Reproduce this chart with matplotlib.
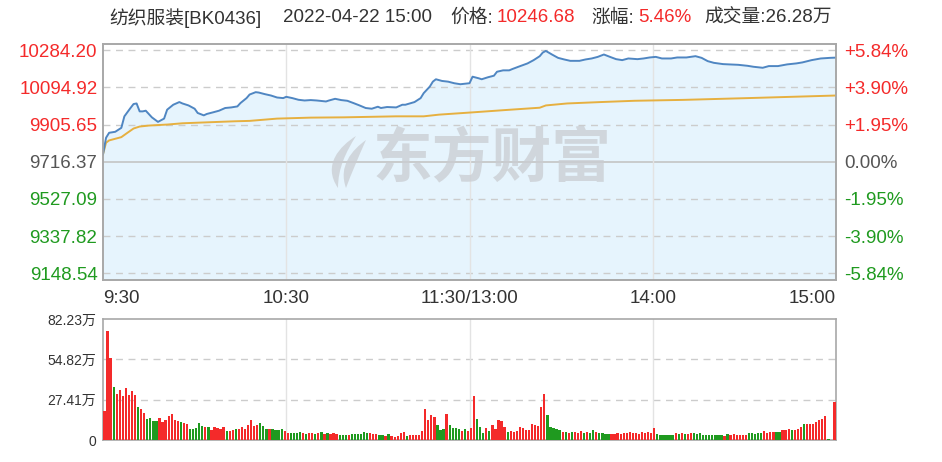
import matplotlib
matplotlib.use('Agg')
import matplotlib.pyplot as plt
from matplotlib.path import Path
from matplotlib.patches import PathPatch
import numpy as np

FONT = ['Liberation Sans', 'Noto Sans CJK SC', 'DejaVu Sans']
plt.rcParams['font.family'] = FONT

# ---------------- data ----------------
prev_close = 9716.37
price_ticks = [9148.54, 9337.82, 9527.09, 9716.37, 9905.65, 10094.92, 10284.20]
price_tick_labels = ['9148.54', '9337.82', '9527.09', '9716.37', '9905.65', '10094.92', '10284.20']
pct_tick_labels = ['-5.84%', '-3.90%', '-1.95%', '0.00%', '+1.95%', '+3.90%', '+5.84%']
time_ticks = [0, 60, 120, 180, 240]
time_labels = ['9:30', '10:30', '11:30/13:00', '14:00', '15:00']
vol_ticks = [0, 27.41, 54.82, 82.23]
vol_tick_labels = ['0', '27.41万', '54.82万', '82.23万']

price_min = [0, 1, 2, 4, 6, 7, 9, 10, 11, 12, 13, 14, 16, 18, 20, 21, 23, 25, 26, 28,
             30, 31, 33, 34, 36, 38, 40, 42, 44, 45, 47, 48, 50, 51, 53, 55, 57, 59, 60, 62,
             64, 66, 68, 70, 73, 74, 76, 78, 80, 82, 84, 86, 88, 90, 91, 93, 96, 98, 99, 102,
             104, 105, 107, 108, 109, 111, 113, 115, 117, 120, 121, 123, 124, 126, 128, 129, 131, 133, 134, 136,
             139, 141, 143, 144, 145, 147, 149, 151, 153, 156, 158, 160, 162, 164, 166, 168, 170, 172, 175, 177,
             179, 181, 183, 186, 188, 191, 194, 196, 198, 200, 203, 205, 208, 211, 213, 216, 218, 221, 224, 227,
             229, 232, 235, 238, 240]
price_val = [9754.2, 9838.5, 9863.8, 9868.8, 9889.0, 9947.6, 9990.0, 10010.2, 10013.2, 9972.8,
             9972.8, 9976.3, 9942.5, 9919.3, 9936.0, 9981.4, 10006.6, 10020.3, 10013.2, 10003.1,
             9986.4, 9964.7, 9952.6, 9959.7, 9967.8, 9976.3, 9990.0, 9993.0, 9998.1, 10015.2,
             10040.4, 10058.6, 10070.7, 10068.7, 10060.6, 10053.6, 10043.5, 10040.4, 10047.0, 10040.4,
             10031.9, 10028.3, 10030.4, 10028.3, 10023.3, 10028.3, 10036.9, 10030.4, 10026.8, 10015.2,
             10003.1, 9990.0, 9986.4, 9996.5, 9990.0, 9995.0, 9993.0, 10006.6, 10006.6, 10020.3,
             10040.4, 10065.7, 10099.0, 10124.2, 10136.4, 10127.8, 10124.2, 10116.2, 10111.1, 10116.2,
             10149.5, 10141.4, 10136.4, 10146.4, 10154.5, 10174.7, 10181.8, 10181.8, 10188.3, 10200.0,
             10217.1, 10233.8, 10254.0, 10272.6, 10280.7, 10262.5, 10245.4, 10237.3, 10230.2, 10230.2,
             10237.3, 10242.3, 10250.4, 10262.5, 10250.4, 10238.8, 10233.8, 10242.3, 10238.8, 10242.3,
             10247.4, 10250.4, 10242.3, 10242.3, 10247.4, 10247.4, 10254.0, 10245.4, 10228.7, 10220.1,
             10213.6, 10212.1, 10210.0, 10205.0, 10200.0, 10194.9, 10203.5, 10203.5, 10212.1, 10217.1,
             10222.2, 10233.8, 10242.3, 10245.4, 10246.68]

avg_min = [0, 1, 2, 6, 8, 10, 12, 15, 21, 26, 32, 43, 48, 57, 68, 79, 96, 105, 110, 121,
           132, 143, 145, 152, 163, 174, 190, 211, 240]
avg_val = [9754.2, 9813.3, 9824.9, 9841.6, 9863.8, 9885.5, 9895.6, 9900.6, 9905.7, 9912.2,
           9915.8, 9922.3, 9924.4, 9936.0, 9941.0, 9942.5, 9947.6, 9947.6, 9956.2, 9967.8,
           9979.9, 9991.5, 10003.1, 10013.2, 10020.3, 10026.8, 10031.4, 10040.4, 10053.6]

vol = [19.4, 74.0, 55.7, 36.1, 31.2, 33.9, 30.1, 35.0, 30.5, 33.4,
       30.7, 22.7, 21.2, 18.3, 14.5, 15.2, 12.9, 12.9, 15.2, 12.3,
       13.4, 16.0, 17.8, 13.8, 12.9, 12.3, 11.6, 11.1, 7.8, 7.8,
       8.2, 11.6, 9.6, 8.9, 8.9, 6.7, 8.5, 8.2, 7.8, 8.5,
       6.0, 6.2, 6.7, 7.4, 7.8, 8.9, 7.8, 10.0, 13.8, 9.4,
       10.0, 11.6, 9.4, 7.8, 7.8, 7.4, 7.1, 6.7, 7.8, 6.0,
       4.9, 4.9, 4.9, 4.9, 5.1, 4.5, 4.2, 4.5, 4.5, 4.0,
       4.5, 5.1, 4.0, 4.5, 4.0, 4.9, 4.0, 3.3, 3.3, 3.3,
       3.3, 4.0, 4.0, 3.8, 3.8, 5.3, 4.5, 4.5, 3.8, 3.8,
       3.1, 3.1, 2.7, 3.8, 2.7, 2.2, 2.7, 4.5, 5.1, 2.9,
       3.3, 3.1, 3.1, 3.1, 6.2, 21.2, 13.4, 16.7, 15.6, 10.5,
       7.1, 7.8, 17.8, 10.0, 8.2, 8.2, 7.8, 6.2, 7.8, 6.2,
       8.2, 30.1, 14.5, 8.9, 4.9, 8.2, 6.2, 10.0, 7.8, 13.8,
       12.9, 8.9, 5.6, 6.0, 5.6, 6.0, 8.5, 8.2, 6.7, 6.7,
       10.7, 10.5, 9.4, 22.3, 31.2, 16.7, 8.9, 8.2, 7.8, 6.7,
       5.6, 5.6, 4.5, 5.6, 5.1, 4.5, 6.0, 4.5, 5.6, 4.9,
       6.7, 5.1, 4.9, 4.5, 4.0, 4.0, 3.8, 3.8, 4.5, 3.8,
       4.9, 4.5, 5.6, 4.5, 4.9, 4.0, 5.1, 4.5, 5.6, 4.5,
       8.2, 4.0, 3.3, 3.5, 3.3, 3.1, 3.3, 4.5, 4.0, 4.5,
       4.2, 4.0, 4.9, 4.5, 4.2, 4.5, 3.3, 3.1, 3.3, 3.3,
       3.1, 3.5, 3.3, 2.9, 3.8, 3.1, 4.0, 3.3, 3.1, 3.3,
       3.5, 4.5, 4.5, 4.2, 4.5, 4.5, 6.2, 4.9, 5.1, 5.3,
       5.1, 5.1, 6.7, 6.5, 7.8, 6.7, 7.1, 7.8, 8.9, 11.1,
       10.7, 10.7, 11.1, 12.3, 13.4, 14.5, 16.0, 0.4, 0.3, 25.6]
vol_dir = ("rrrgrrrrrr" "rgrrggggrr" "rrrrrgrrgg" "gggrgrrrrr" "grrgrrrrrr" "rgggrggggr"
           "rggggrgrrg" "rgrgrrrggg" "rggggggrrr" "ggrgrrrrrg" "rrrrrrrrrg" "ggrggggrgr"
           "rrgggrgrrr" "rrgrrrrrrr" "rrrrrggggg" "rgrgrrrgrg" "grggggrrrr" "rrrrrrrrrr"
           "rggggggrgr" "grrggggggg" "gggrgrrrrr" "rgggggrrrr" "ggrrrgrrrg" "rrrrrrrggr")

header_parts = [('纺织服装[BK0436]', 'grey'), ('2022-04-22 15:00', 'grey'), ('价格:', 'grey'),
                ('10246.68', 'red'), ('涨幅:', 'grey'), ('5.46%', 'red'), ('成交量:26.28万', 'grey')]

# ---------------- style ----------------
RED = '#f42a2a'
GREEN = '#1f9a1f'
GREY = '#555555'
DARK = '#333333'
BLUE = '#4f86c2'
FILL = '#e6f4fd'
GOLD = '#e6b040'
GRID = '#cccccc'
VGRID = '#e3e3e3'
SPINE = '#a8a8a8'
WM = '#c9cdd2'
FS = 13.5

W, H = 942, 462
fig = plt.figure(figsize=(W / 100, H / 100), dpi=100)


def rect(l, t, r, b):
    return [l / W, 1 - b / H, (r - l) / W, (b - t) / H]


ax = fig.add_axes(rect(103, 44, 836, 280))
axv = fig.add_axes(rect(103, 319, 836, 440))

ymin, ymax = 9114.0, 10316.0
ax.set_xlim(0, 240)
ax.set_ylim(ymin, ymax)

# price fill + lines
ax.fill_between(price_min, price_val, ymin, color=FILL, zorder=1, lw=0)
ax.plot(price_min, price_val, color=BLUE, lw=1.4, zorder=4)
ax.plot(avg_min, avg_val, color=GOLD, lw=1.4, zorder=3)

# grid
for t in price_ticks:
    if abs(t - prev_close) < 1e-6:
        ax.axhline(t, color='#c4c4c4', lw=1.2, zorder=2)
    else:
        ax.axhline(t, color=GRID, lw=1.0, ls=(0, (5, 4)), zorder=2)
for t in time_ticks[1:-1]:
    ax.axvline(t, color=VGRID, lw=1.0, zorder=2)

# watermark (logo + text)
ax.text(0.531, 0.505, '东方财富', transform=ax.transAxes, ha='center', va='center',
        fontsize=43, fontweight='bold', color=WM, alpha=0.75, zorder=2.5,
        family=['Noto Sans CJK SC'])


def px2ax(px, py):
    return ((px - 103) / 733, (280 - py) / 236)


leaves = [
    [(338, 188), (322, 165), (340, 146), (356, 136), (346, 152), (338, 168), (338, 188)],
    [(346, 188), (338, 166), (352, 150), (366, 140), (358, 158), (352, 172), (346, 188)],
]
for pts in leaves:
    verts = [px2ax(*p) for p in pts]
    codes = [Path.MOVETO, Path.CURVE4, Path.CURVE4, Path.CURVE4, Path.CURVE4, Path.CURVE4, Path.CURVE4]
    ax.add_patch(PathPatch(Path(verts, codes), transform=ax.transAxes, facecolor=WM,
                           edgecolor='none', alpha=0.75, zorder=2.5))

ax.set_yticks(price_ticks)
ax.set_yticklabels(price_tick_labels)
ax.set_xticks(time_ticks)
ax.set_xticklabels(time_labels)
ax.tick_params(axis='y', length=0, pad=4, labelsize=FS)
ax.tick_params(axis='x', length=0, pad=7, labelsize=FS, labelcolor=DARK)
for lab, t in zip(ax.get_yticklabels(), price_ticks):
    lab.set_color(RED if t > prev_close + 1e-6 else (GREEN if t < prev_close - 1e-6 else GREY))
xl = ax.get_xticklabels()
xl[0].set_ha('left')
xl[-1].set_ha('right')

ax2 = ax.twinx()
ax2.set_ylim(ymin, ymax)
ax2.set_yticks(price_ticks)
ax2.set_yticklabels(pct_tick_labels)
ax2.tick_params(axis='y', length=0, pad=6, labelsize=FS)
for lab, t in zip(ax2.get_yticklabels(), price_ticks):
    lab.set_color(RED if t > prev_close + 1e-6 else (GREEN if t < prev_close - 1e-6 else GREY))

for a in (ax, ax2, axv):
    for s in a.spines.values():
        s.set_color(SPINE)
        s.set_linewidth(1.2)

# volume
x = np.arange(len(vol)) + 0.5
colors = [RED if d == 'r' else GREEN for d in vol_dir]
axv.bar(x, vol, width=0.75, color=colors, lw=0, zorder=3)
axv.set_xlim(0, 240)
axv.set_ylim(0, vol_ticks[-1])
for t in vol_ticks[1:-1]:
    axv.axhline(t, color=GRID, lw=1.0, ls=(0, (5, 4)), zorder=1)
for t in time_ticks[1:-1]:
    axv.axvline(t, color=VGRID, lw=1.0, zorder=1)
axv.set_xticks([])
axv.set_yticks(vol_ticks)
axv.set_yticklabels(vol_tick_labels)
axv.tick_params(axis='y', length=0, pad=5, labelsize=10, labelcolor=DARK)

# header
hx = [109.5, 283.4, 450.4, 496.7, 591.7, 638.0, 704.7]
for (txt, c), px in zip(header_parts, hx):
    fig.text(px / W, 1 - 18 / H, txt, ha='left', va='center', fontsize=FS,
             color=RED if c == 'red' else DARK)

fig.savefig('out.png', dpi=100, facecolor='white')
